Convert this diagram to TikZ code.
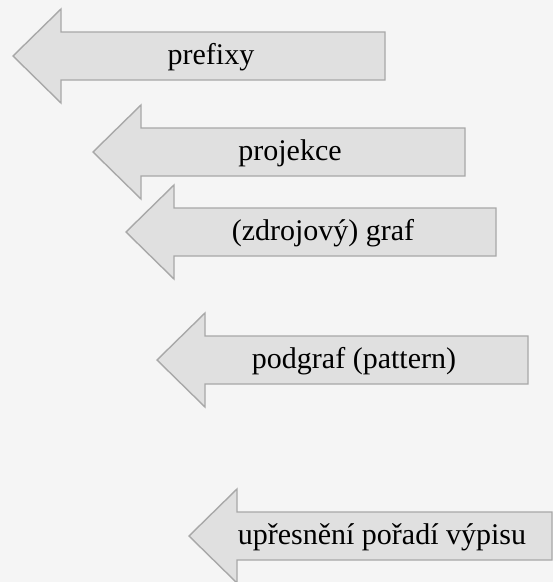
\documentclass[tikz,border=0pt]{standalone}
\usepackage{fontspec}
\setmainfont{Liberation Serif}
\definecolor{bgc}{HTML}{F5F5F5}
\definecolor{arrfill}{HTML}{E0E0E0}
\definecolor{arrdraw}{HTML}{A8A8A8}
\begin{document}
\begin{tikzpicture}[x=1pt,y=-1pt,
  arrowbox/.style={fill=arrfill,draw=arrdraw,line width=1.4pt,line join=miter},
  lbl/.style={font=\fontsize{30}{36}\selectfont,text=black,inner sep=0pt,anchor=center}]
\fill[bgc] (0,0) rectangle (553,582);
\useasboundingbox (0,0) rectangle (553,582);
% arrow: tip (x,y), head length 48, head half 47, shaft half 24
\newcommand{\larrow}[3]{%
  \draw[arrowbox] (#1,#2) -- ++(48,-47) -- ++(0,23) -- (#3,#2-24) -- (#3,#2+24) -- (#1+48,#2+24) -- (#1+48,#2+47) -- cycle;}
\larrow{13}{56}{385}
\larrow{93}{152}{465}
\larrow{126}{232}{496}
\larrow{157}{360}{528}
\larrow{189}{536}{552}
\node[lbl] (a) at (211,57) {prefixy};
\node[lbl] (b) at (290,153) {projekce};
\node[lbl] (c) at (323,233) {(zdrojový) graf};
\node[lbl] (d) at (354,361) {podgraf (pattern)};
\node[lbl] (e) at (382,537) {upřesnění pořadí výpisu};
\end{tikzpicture}
\end{document}
